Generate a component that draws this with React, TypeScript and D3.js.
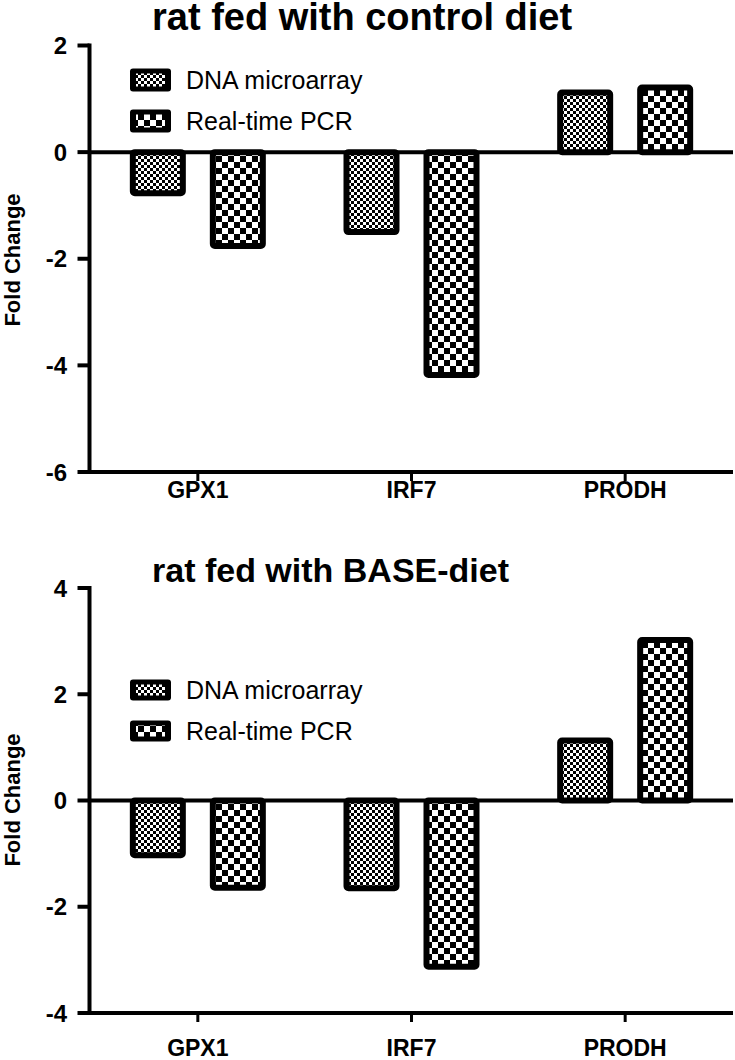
import React from "react";
import * as d3 from "d3";

const categories = ["GPX1", "IRF7", "PRODH"];
const seriesNames = ["DNA microarray", "Real-time PCR"];
const controlMicroarray = [-0.77, -1.5, 1.12];
const controlPCR = [-1.76, -4.18, 1.21];
const baseMicroarray = [-1.03, -1.65, 1.13];
const basePCR = [-1.64, -3.13, 3.02];
const controlTicks = [2, 0, -2, -4, -6];
const baseTicks = [4, 2, 0, -2, -4];

const W = 735;
const H = 1060;
const axisX = 89.5;
const xRight = 733;

type Panel = {
  title: string;
  titleY: number;
  titleSize: number;
  domain: [number, number];
  range: [number, number];
  ticks: number[];
  values: number[][];
  legendY: number[];
  legendBoxH: number;
  labelY: number;
  yLabelY: number;
};

const panels: Panel[] = [
  {
    title: "rat fed with control diet",
    titleY: 30,
    titleSize: 38,
    domain: [-6, 2],
    range: [472, 45.5],
    ticks: controlTicks,
    values: [controlMicroarray, controlPCR],
    legendY: [80, 121],
    legendBoxH: 23,
    labelY: 498,
    yLabelY: 260,
  },
  {
    title: "rat fed with BASE-diet",
    titleY: 582,
    titleSize: 34,
    domain: [-4, 4],
    range: [1013, 588],
    ticks: baseTicks,
    values: [baseMicroarray, basePCR],
    legendY: [690, 731],
    legendBoxH: 21,
    labelY: 1056,
    yLabelY: 800,
  },
];

const patternIds = ["fineCheck", "coarseCheck"];

function PanelView({ p }: { p: Panel }) {
  const y = d3.scaleLinear().domain(p.domain).range(p.range);
  const x = d3.scaleBand<string>().domain(categories).range([91, 732]).padding(0);
  const inner = d3.scaleBand<string>().domain(seriesNames).range([-68, 68]).paddingInner(0.3);
  const sw = 6;
  const font = "Arial, 'Liberation Sans', Helvetica, sans-serif";
  const y0 = y(0);
  const yMin = y(p.domain[0]);
  const yMax = y(p.domain[1]);
  return (
    <g>
      <text x={152} y={p.titleY} fontFamily={font} fontWeight="bold" fontSize={p.titleSize}>
        {p.title}
      </text>
      <text
        transform={`translate(20,${p.yLabelY}) rotate(-90)`}
        textAnchor="middle"
        fontFamily={font}
        fontWeight="bold"
        fontSize={22}
      >
        Fold Change
      </text>
      {categories.map((c, i) =>
        seriesNames.map((s, j) => {
          const v = p.values[j][i];
          const cx = (x(c) as number) + x.bandwidth() / 2;
          const bx = cx + (inner(s) as number) + sw / 2;
          const bw = inner.bandwidth() - sw;
          const top = Math.min(y(v), y0);
          const h = Math.abs(y(v) - y0);
          return (
            <rect
              key={c + s}
              x={bx}
              y={top}
              width={bw}
              height={h}
              rx={2}
              fill={`url(#${patternIds[j]})`}
              stroke="#000"
              strokeWidth={sw}
              strokeLinejoin="round"
            />
          );
        })
      )}
      <line x1={axisX} x2={axisX} y1={yMax - 2} y2={yMin + 2} stroke="#000" strokeWidth={4} />
      {p.ticks.map((t) => (
        <g key={t}>
          <line x1={axisX - 12} x2={axisX} y1={y(t)} y2={y(t)} stroke="#000" strokeWidth={4} />
          <text
            x={67}
            y={y(t)}
            dy="0.36em"
            textAnchor="end"
            fontFamily={font}
            fontWeight="bold"
            fontSize={24}
          >
            {t}
          </text>
        </g>
      ))}
      <line x1={axisX} x2={xRight} y1={y0} y2={y0} stroke="#000" strokeWidth={4} />
      <line x1={axisX} x2={xRight} y1={yMin} y2={yMin} stroke="#000" strokeWidth={4} />
      {categories.map((c) => {
        const cx = (x(c) as number) + x.bandwidth() / 2;
        return (
          <g key={c}>
            <line x1={cx} x2={cx} y1={yMin} y2={yMin + 9} stroke="#000" strokeWidth={3} />
            <text
              x={cx}
              y={p.labelY}
              textAnchor="middle"
              fontFamily={font}
              fontWeight="bold"
              fontSize={23}
            >
              {c}
            </text>
          </g>
        );
      })}
      {seriesNames.map((s, j) => {
        const ly = p.legendY[j];
        const bh = p.legendBoxH;
        return (
          <g key={s}>
            <rect x={130} y={ly - bh / 2} width={41} height={bh} rx={3} fill="#000" />
            <rect
              x={136}
              y={ly - bh / 2 + 5}
              width={29}
              height={bh - 10}
              fill={`url(#${patternIds[j]})`}
            />
            <text x={186} y={ly} dy="0.36em" fontFamily={font} fontSize={25}>
              {s}
            </text>
          </g>
        );
      })}
    </g>
  );
}

export default function App() {
  return (
    <svg
      width={W}
      height={H}
      viewBox={`0 0 ${W} ${H}`}
      style={{ position: "absolute", left: 0, top: 0, background: "#fff" }}
    >
      <defs>
        <pattern id="fineCheck" width={6} height={6} patternUnits="userSpaceOnUse">
          <rect width={6} height={6} fill="#fff" />
          <rect x={0} y={0} width={3} height={3} fill="#000" />
          <rect x={3} y={3} width={3} height={3} fill="#000" />
        </pattern>
        <pattern id="coarseCheck" width={12} height={12} patternUnits="userSpaceOnUse">
          <rect width={12} height={12} fill="#fff" />
          <rect x={0} y={0} width={6} height={6} fill="#000" />
          <rect x={6} y={6} width={6} height={6} fill="#000" />
        </pattern>
      </defs>
      <rect width={W} height={H} fill="#fff" />
      {panels.map((p) => (
        <PanelView key={p.title} p={p} />
      ))}
    </svg>
  );
}
